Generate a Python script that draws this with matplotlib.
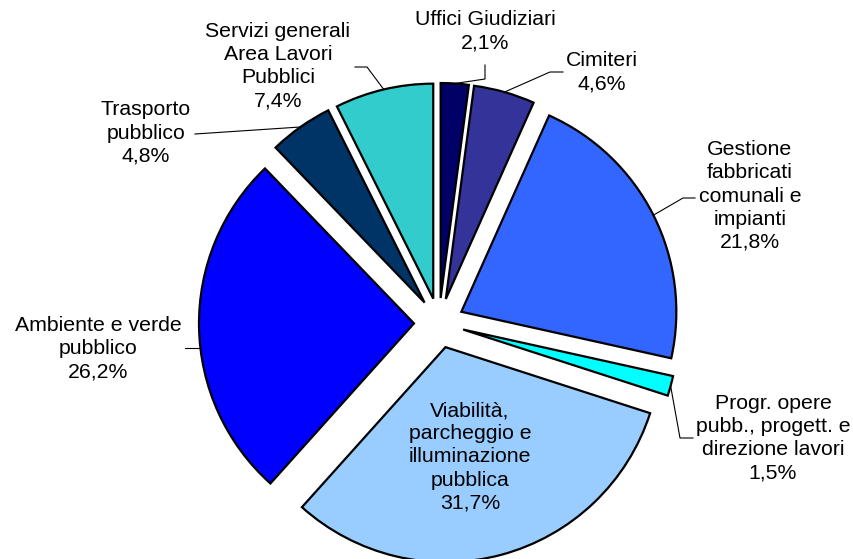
import matplotlib.pyplot as plt
import numpy as np

plt.rcParams['font.family'] = ['Liberation Sans', 'DejaVu Sans']

names = ['Uffici Giudiziari', 'Cimiteri',
         'Gestione\nfabbricati\ncomunali e\nimpianti',
         'Progr. opere\npubb., progett. e\ndirezione lavori',
         'Viabilità,\nparcheggio e\nilluminazione\npubblica',
         'Ambiente e verde\npubblico', 'Trasporto\npubblico',
         'Servizi generali\nArea Lavori\nPubblici']
shares = [2.1, 4.6, 21.8, 1.5, 31.7, 26.2, 4.8, 7.4]
colors = ['#000066', '#333399', '#3366FF', '#00FFFF',
          '#99CCFF', '#0000FF', '#003366', '#33CCCC']

W, H = 854, 559
fig = plt.figure(figsize=(8.54, 5.59), dpi=100)
ax = fig.add_axes([0, 0, 1, 1])

# explode is in data units here (1 unit = 1 pixel)
wedges, _ = ax.pie(shares, colors=colors, startangle=90, counterclock=False,
                   explode=[25] * len(shares), center=(439, H - 323), radius=215,
                   wedgeprops=dict(edgecolor='black', linewidth=1.6))
ax.set_xlim(0, W)
ax.set_ylim(0, H)
ax.axis('off')

# label centres and leader elbows, in pixels from top-left
text_pos = [(485, 31), (602, 72), (750, 196), (773, 438),
            (470, 457), (98, 349), (146, 133), (278, 66)]
elbows = [[(485, 79), (485, 65)], [(550, 72), (563, 72)],
          [(683, 198), (695, 198)], [(680, 438), (693, 438)],
          [], [(185, 348)], [(195, 134)], [(367, 67), (355, 67)]]

for w, name, v, (tx, ty), elb in zip(wedges, names, shares, text_pos, elbows):
    pct = '{:.1f}%'.format(v).replace('.', ',')
    ax.text(tx, H - ty, name + '\n' + pct, ha='center', va='center',
            fontsize=15.3, linespacing=1.28, color='black')
    if not elb:
        continue
    cx, cy = w.center
    if name.startswith('Ambiente'):
        y = H - elb[0][1]
        anchor = (cx - np.sqrt(w.r ** 2 - (y - cy) ** 2), y)
    else:
        mid = np.deg2rad((w.theta1 + w.theta2) / 2)
        anchor = (cx + w.r * np.cos(mid), cy + w.r * np.sin(mid))
    pts = [anchor] + [(x, H - y) for x, y in elb]
    ax.plot([p[0] for p in pts], [p[1] for p in pts], color='black', lw=0.8)

fig.savefig('out.png', dpi=100)
